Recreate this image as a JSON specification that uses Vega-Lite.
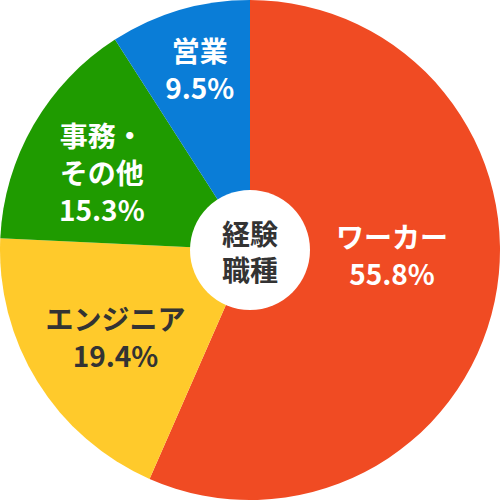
{
  "$schema": "https://vega.github.io/schema/vega-lite/v6.json",
  "width": 500,
  "height": 500,
  "autosize": {"type": "fit", "contains": "padding"},
  "padding": 0,
  "background": "white",
  "view": {"stroke": null},
  "config": {"text": {"font": "Noto Sans CJK JP", "fontWeight": "bold", "fontSize": 28, "lineHeight": 37}},
  "datasets": {
    "jobs": [
      {"cat": "ワーカー", "share": 56.58, "label": "ワーカー\n55.8%", "idx": 1},
      {"cat": "エンジニア", "share": 19.17, "label": "エンジニア\n19.4%", "idx": 2},
      {"cat": "事務・その他", "share": 15.17, "label": "事務・\nその他\n15.3%", "idx": 3},
      {"cat": "営業", "share": 9.08, "label": "営業\n9.5%", "idx": 4}
    ],
    "center": [{"t": "経験\n職種"}]
  },
  "layer": [
    {
      "data": {"name": "jobs"},
      "mark": {"type": "arc", "outerRadius": 250},
      "encoding": {
        "theta": {"field": "share", "type": "quantitative", "stack": true},
        "order": {"field": "idx", "type": "quantitative"},
        "color": {
          "field": "cat", "type": "nominal", "legend": null,
          "scale": {"domain": ["ワーカー", "エンジニア", "事務・その他", "営業"], "range": ["#F04B23", "#FFCA2B", "#1F9B00", "#0A7DD7"]}
        }
      }
    },
    {
      "data": {"name": "jobs"},
      "mark": {"type": "text", "radius": 140, "dx": 5, "dy": -39, "color": "white", "lineBreak": "\n"},
      "encoding": {
        "theta": {"field": "share", "type": "quantitative", "stack": true},
        "order": {"field": "idx", "type": "quantitative"},
        "detail": {"field": "cat", "type": "nominal"},
        "text": {"condition": {"test": "datum.cat === 'ワーカー'", "field": "label"}, "value": ""}
      }
    },
    {
      "data": {"name": "jobs"},
      "mark": {"type": "text", "radius": 150, "dx": -7, "dy": -7, "color": "#333333", "lineBreak": "\n"},
      "encoding": {
        "theta": {"field": "share", "type": "quantitative", "stack": true},
        "order": {"field": "idx", "type": "quantitative"},
        "detail": {"field": "cat", "type": "nominal"},
        "text": {"condition": {"test": "datum.cat === 'エンジニア'", "field": "label"}, "value": ""}
      }
    },
    {
      "data": {"name": "jobs"},
      "mark": {"type": "text", "radius": 170, "dx": -1, "dy": -26, "color": "white", "lineBreak": "\n"},
      "encoding": {
        "theta": {"field": "share", "type": "quantitative", "stack": true},
        "order": {"field": "idx", "type": "quantitative"},
        "detail": {"field": "cat", "type": "nominal"},
        "text": {"condition": {"test": "datum.cat === '事務・その他'", "field": "label"}, "value": ""}
      }
    },
    {
      "data": {"name": "jobs"},
      "mark": {"type": "text", "radius": 200, "dx": 6, "dy": -4, "color": "white", "lineBreak": "\n"},
      "encoding": {
        "theta": {"field": "share", "type": "quantitative", "stack": true},
        "order": {"field": "idx", "type": "quantitative"},
        "detail": {"field": "cat", "type": "nominal"},
        "text": {"condition": {"test": "datum.cat === '営業'", "field": "label"}, "value": ""}
      }
    },
    {
      "data": {"name": "center"},
      "mark": {"type": "arc", "outerRadius": 60, "color": "white"},
      "encoding": {}
    },
    {
      "data": {"name": "center"},
      "mark": {"type": "text", "color": "#333333", "lineBreak": "\n", "lineHeight": 36, "dy": -13},
      "encoding": {"text": {"field": "t", "type": "nominal"}}
    }
  ]
}
